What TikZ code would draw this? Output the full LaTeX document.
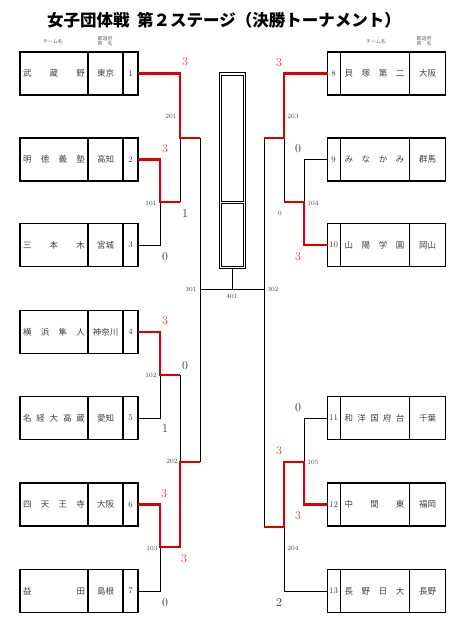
\documentclass[tikz,border=0pt]{standalone}
\usepackage{fontspec}
\newfontfamily\jp{Noto Sans CJK JP}
\definecolor{wred}{RGB}{222,0,0}
\definecolor{sred}{RGB}{232,60,60}
\tikzset{
  box/.style={draw, line width=1.6pt, minimum width=118pt, minimum height=43pt, inner sep=0pt, outer sep=0pt},
  div/.style={line width=1.1pt},
  thinline/.style={line width=0.7pt},
  win/.style={line width=2.6pt, draw=wred},
  nm/.style={font=\jp\fontsize{8.5}{9}\selectfont, text=black!75, inner sep=0pt},
  num/.style={font=\fontsize{8.5}{9}\selectfont, text=black!80, inner sep=0pt},
  mno/.style={font=\fontsize{6.5}{7}\selectfont, text=black!75, inner sep=0pt},
  sc/.style={font=\fontsize{12}{12}\selectfont, text=black!80, inner sep=0pt},
  scr/.style={sc, text=sred},
  hd/.style={font=\jp\fontsize{5}{5.5}\selectfont, text=black!60, inner sep=0pt, align=center},
}
\newcommand\lteam[5]{%
  \node[box] (t#1) at (79,#2) {};
  \draw[div] ([xshift=68pt]t#1.north west) -- ([xshift=68pt]t#1.south west);
  \draw[div] ([xshift=103pt]t#1.north west) -- ([xshift=103pt]t#1.south west);
  \node[nm] (t#1n) at (54,#2) {\makebox[62pt][s]{#3}};
  \node[nm] (t#1p) at (105.5,#2) {#4};
  \node[num] (t#1k) at (130.5,#2) {#5};
}
\newcommand\rteam[5]{%
  \node[box] (t#1) at (386.5,#2) {};
  \draw[div] ([xshift=13pt]t#1.north west) -- ([xshift=13pt]t#1.south west);
  \draw[div] ([xshift=82pt]t#1.north west) -- ([xshift=82pt]t#1.south west);
  \node[nm] (t#1n) at (374.5,#2) {\makebox[60pt][s]{#3}};
  \node[nm] (t#1p) at (427.5,#2) {#4};
  \node[num] (t#1k) at (333.5,#2) {#5};
}
\begin{document}
\begin{tikzpicture}[x=1pt,y=-1pt]
\useasboundingbox (0,0) rectangle (454,620);
\node[font=\jp\bfseries\fontsize{16.5}{16.5}\selectfont] (title) at (224,20) {女子団体戦\hspace{0.45em}第２ステージ（決勝トーナメント）};
% headers
\node[hd] (hl1) at (53,42) {チーム名};
\node[hd] (hl2) at (105,41) {都道府\\県　名};
\node[hd] (hr1) at (376,42) {チーム名};
\node[hd] (hr2) at (424,41) {都道府\\県　名};
% teams
\lteam{1}{73.5}{武\hfill 蔵\hfill 野}{東京}{1}
\lteam{2}{159.5}{明\hfill 徳\hfill 義\hfill 塾}{高知}{2}
\lteam{3}{245}{三\hfill 本\hfill 木}{宮城}{3}
\lteam{4}{332}{横\hfill 浜\hfill 隼\hfill 人}{神奈川}{4}
\lteam{5}{418}{名\hfill 経\hfill 大\hfill 高\hfill 蔵}{愛知}{5}
\lteam{6}{504.5}{四\hfill 天\hfill 王\hfill 寺}{大阪}{6}
\lteam{7}{591}{益\hfill 田}{島根}{7}
\rteam{8}{73.5}{貝\hfill 塚\hfill 第\hfill 二}{大阪}{8}
\rteam{9}{159.5}{み\hfill な\hfill か\hfill み}{群馬}{9}
\rteam{10}{245}{山\hfill 陽\hfill 学\hfill 園}{岡山}{10}
\rteam{11}{418}{和\hfill 洋\hfill 国\hfill 府\hfill 台}{千葉}{11}
\rteam{12}{504.5}{中\hfill 間\hfill 東}{福岡}{12}
\rteam{13}{591}{長\hfill 野\hfill 日\hfill 大}{長野}{13}
% final box
\node[draw, line width=1pt, minimum width=26pt, minimum height=195pt, inner sep=0pt, outer sep=0pt] (final) at (232,170.5) {};
\node[draw, line width=0.9pt, minimum width=22pt, minimum height=126.5pt, inner sep=0pt, outer sep=0pt] (fin1) at (232,138.25) {};
\node[draw, line width=0.9pt, minimum width=22pt, minimum height=62.5pt, inner sep=0pt, outer sep=0pt] (fin2) at (232,234.75) {};
% junctions
\coordinate (m101) at (160,202);
\coordinate (m102) at (160,375);
\coordinate (m103) at (160,547);
\coordinate (m201) at (180,138);
\coordinate (m202) at (180,462);
\coordinate (m301) at (200,289);
\coordinate (m401) at (232,289);
\coordinate (m104) at (304,202);
\coordinate (m105) at (304,462);
\coordinate (m203) at (284,138);
\coordinate (m204) at (284,527);
\coordinate (m302) at (264,289);
% skeleton
\begin{scope}[thinline]
\draw (t2.east) -| (m101); \draw (t3.east) -| (m101); \draw (m101) -- (m101 -| m201);
\draw (t4.east) -| (m102); \draw (t5.east) -| (m102); \draw (m102) -- (m102 -| m202);
\draw (t6.east) -| (m103); \draw (t7.east) -| (m103); \draw (m103) -- (m103 -| m202);
\draw (t1.east) -| (m201); \draw (m101 -| m201) -- (m201); \draw (m201) -- (m201 -| m301);
\draw (m102 -| m202) -- (m103 -| m202); \draw (m202) -- (m202 -| m301);
\draw (m201 -| m301) -- (m202 -| m301);
\draw (m301) -- (m302);
\draw (final.south) -- (m401);
\draw (t9.west) -| (m104); \draw (t10.west) -| (m104); \draw (m104) -- (m104 -| m203);
\draw (t8.west) -| (m203); \draw (m104 -| m203) -- (m203); \draw (m203) -- (m203 -| m302);
\draw (t11.west) -| (m105); \draw (t12.west) -| (m105); \draw (m105) -| (m204);
\draw (t13.west) -| (m204); \draw (m204) -- (m204 -| m302);
\draw (m203 -| m302) -- (m204 -| m302);
\end{scope}
% winners
\draw[win] (t1.east) -| (m201) -- (m201 -| m301);
\draw[win] (t2.east) -| (m101) -- (m101 -| m201);
\draw[win] (t4.east) -| (m102) -- (m102 -| m202);
\draw[win] (t6.east) -| (m103) -| (m202) -- (m202 -| m301);
\draw[win] (t8.west) -| (m203) -- (m203 -| m302);
\draw[win] (t10.west) -| (m104) -- (m104 -| m203);
\draw[win] (t12.west) -| (m105) -| (m204) -- (m204 -| m302);
% left labels
\node[scr] (s1) at (185,62) {3};
\node[mno] (n201) at (171,116) {201};
\node[scr] (s2) at (165,149) {3};
\node[mno] (n101) at (151,203) {101};
\node[sc] (s3) at (185,214) {1};
\node[sc] (s4) at (165,257) {0};
\node[mno] (n301) at (191,289) {301};
\node[mno] (n401) at (232,296) {401};
\node[scr] (s5) at (165,321) {3};
\node[mno] (n102) at (151,375) {102};
\node[sc] (s6) at (185,366) {0};
\node[sc] (s7) at (165,429) {1};
\node[mno] (n202) at (172,461) {202};
\node[scr] (s8) at (164,494) {3};
\node[mno] (n103) at (152,548) {103};
\node[scr] (s9) at (184,559) {3};
\node[sc] (s10) at (165,603) {0};
% right labels
\node[scr] (s11) at (279,63) {3};
\node[mno] (n203) at (293,116) {203};
\node[sc] (s12) at (298,149) {0};
\node[mno] (n104) at (313,203) {104};
\node[mno] (s13) at (280,213) {0};
\node[scr] (s14) at (298,257) {3};
\node[mno] (n302) at (273,289) {302};
\node[sc] (s15) at (298,408) {0};
\node[scr] (s16) at (279,451) {3};
\node[mno] (n105) at (313,462) {105};
\node[scr] (s17) at (298,516) {3};
\node[mno] (n204) at (293,548) {204};
\node[sc] (s18) at (279,603) {2};
\end{tikzpicture}
\end{document}
